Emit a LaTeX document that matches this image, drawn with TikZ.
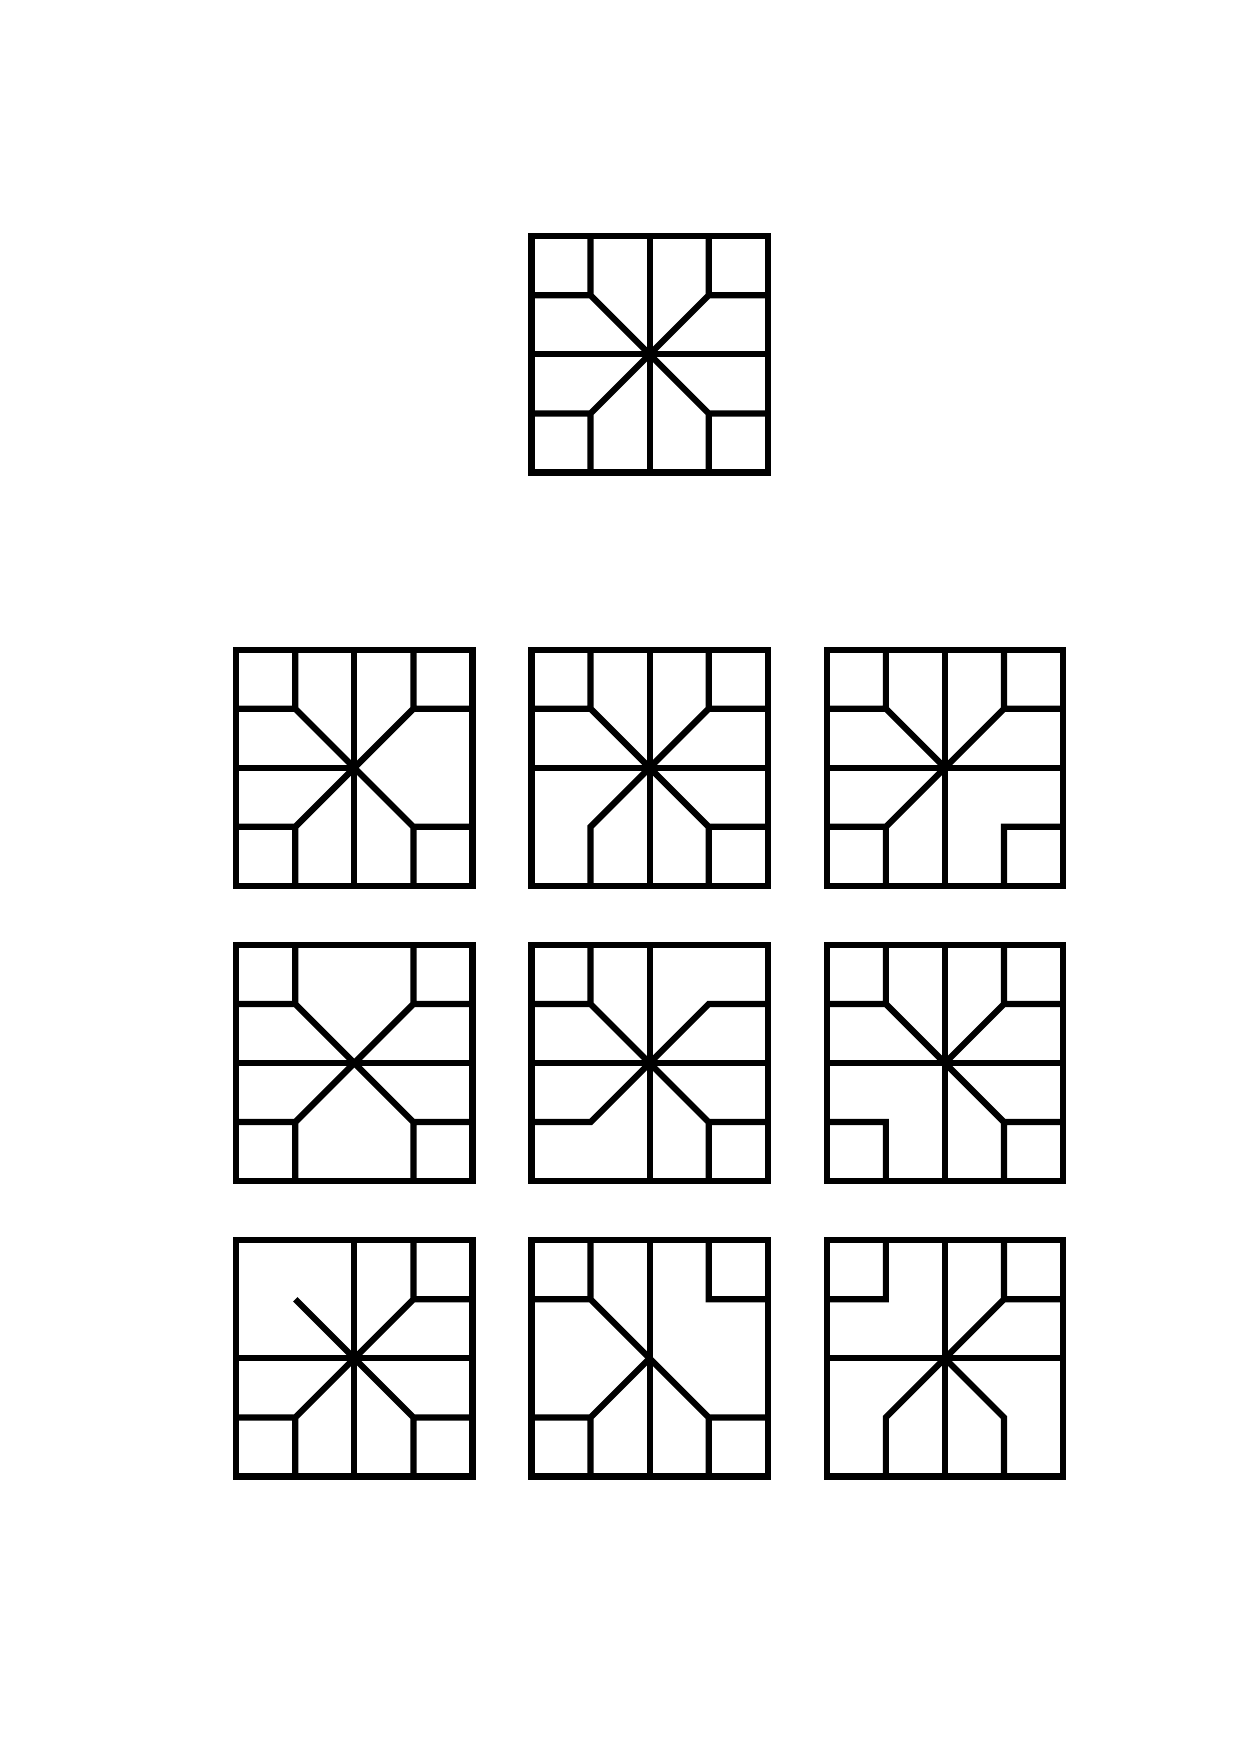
\documentclass[tikz,border=0pt]{standalone}
\begin{document}
\begin{tikzpicture}[yscale=-1,
  tl/.style={line width=3pt, black},
  frame/.style={line width=3pt, black}]
\useasboundingbox (0,0) rectangle (21,29.7);
% ---------- top: full tile ----------
\begin{scope}[shift={(9,4)}]
  \draw[frame] (0,0) rectangle (4,4);
  \draw[tl] (2,0) -- (2,4) (0,2) -- (4,2);
  \draw[tl] (0,1) -- (1,1) -- (3,3) -- (4,3) (1,0) -- (1,1) (3,3) -- (3,4);
  \draw[tl] (4,1) -- (3,1) -- (1,3) -- (0,3) (3,0) -- (3,1) (1,3) -- (1,4);
\end{scope}
% ---------- row 1 ----------
\begin{scope}[shift={(4,11)}]% right half of horizontal missing
  \draw[frame] (0,0) rectangle (4,4);
  \draw[tl] (2,0) -- (2,4) (0,2) -- (2,2);
  \draw[tl] (0,1) -- (1,1) -- (3,3) -- (4,3) (1,0) -- (1,1) (3,3) -- (3,4);
  \draw[tl] (4,1) -- (3,1) -- (1,3) -- (0,3) (3,0) -- (3,1) (1,3) -- (1,4);
\end{scope}
\begin{scope}[shift={(9,11)}]% bottom-left horizontal missing
  \draw[frame] (0,0) rectangle (4,4);
  \draw[tl] (2,0) -- (2,4) (0,2) -- (4,2);
  \draw[tl] (0,1) -- (1,1) -- (3,3) -- (4,3) (1,0) -- (1,1) (3,3) -- (3,4);
  \draw[tl] (4,1) -- (3,1) -- (1,3) -- (1,4) (3,0) -- (3,1);
\end{scope}
\begin{scope}[shift={(14,11)}]% bottom-right diagonal missing
  \draw[frame] (0,0) rectangle (4,4);
  \draw[tl] (2,0) -- (2,4) (0,2) -- (4,2);
  \draw[tl] (0,1) -- (1,1) -- (2,2) (1,0) -- (1,1) (4,3) -- (3,3) -- (3,4);
  \draw[tl] (4,1) -- (3,1) -- (1,3) -- (0,3) (3,0) -- (3,1) (1,3) -- (1,4);
\end{scope}
% ---------- row 2 ----------
\begin{scope}[shift={(4,16)}]% centre vertical missing
  \draw[frame] (0,0) rectangle (4,4);
  \draw[tl] (0,2) -- (4,2);
  \draw[tl] (0,1) -- (1,1) -- (3,3) -- (4,3) (1,0) -- (1,1) (3,3) -- (3,4);
  \draw[tl] (4,1) -- (3,1) -- (1,3) -- (0,3) (3,0) -- (3,1) (1,3) -- (1,4);
\end{scope}
\begin{scope}[shift={(9,16)}]% top-right and bottom-left verticals missing
  \draw[frame] (0,0) rectangle (4,4);
  \draw[tl] (2,0) -- (2,4) (0,2) -- (4,2);
  \draw[tl] (0,1) -- (1,1) -- (3,3) -- (4,3) (1,0) -- (1,1) (3,3) -- (3,4);
  \draw[tl] (4,1) -- (3,1) -- (1,3) -- (0,3);
\end{scope}
\begin{scope}[shift={(14,16)}]% bottom-left diagonal missing
  \draw[frame] (0,0) rectangle (4,4);
  \draw[tl] (2,0) -- (2,4) (0,2) -- (4,2);
  \draw[tl] (0,1) -- (1,1) -- (3,3) -- (4,3) (1,0) -- (1,1) (3,3) -- (3,4);
  \draw[tl] (4,1) -- (3,1) -- (2,2) (3,0) -- (3,1) (0,3) -- (1,3) -- (1,4);
\end{scope}
% ---------- row 3 ----------
\begin{scope}[shift={(4,21)}]% top-left vertical and horizontal missing
  \draw[frame] (0,0) rectangle (4,4);
  \draw[tl] (2,0) -- (2,4) (0,2) -- (4,2);
  \draw[tl] (1,1) -- (3,3) -- (4,3) (3,3) -- (3,4);
  \draw[tl] (4,1) -- (3,1) -- (1,3) -- (0,3) (3,0) -- (3,1) (1,3) -- (1,4);
\end{scope}
\begin{scope}[shift={(9,21)}]% top-right diagonal and centre horizontal missing
  \draw[frame] (0,0) rectangle (4,4);
  \draw[tl] (2,0) -- (2,4);
  \draw[tl] (0,1) -- (1,1) -- (3,3) -- (4,3) (1,0) -- (1,1) (3,3) -- (3,4);
  \draw[tl] (3,0) -- (3,1) -- (4,1) (2,2) -- (1,3) -- (0,3) (1,3) -- (1,4);
\end{scope}
\begin{scope}[shift={(14,21)}]% top-left diagonal, bottom horizontals missing
  \draw[frame] (0,0) rectangle (4,4);
  \draw[tl] (2,0) -- (2,4) (0,2) -- (4,2);
  \draw[tl] (1,0) -- (1,1) -- (0,1) (2,2) -- (3,3) -- (3,4);
  \draw[tl] (4,1) -- (3,1) -- (1,3) -- (1,4) (3,0) -- (3,1);
\end{scope}
\end{tikzpicture}
\end{document}
